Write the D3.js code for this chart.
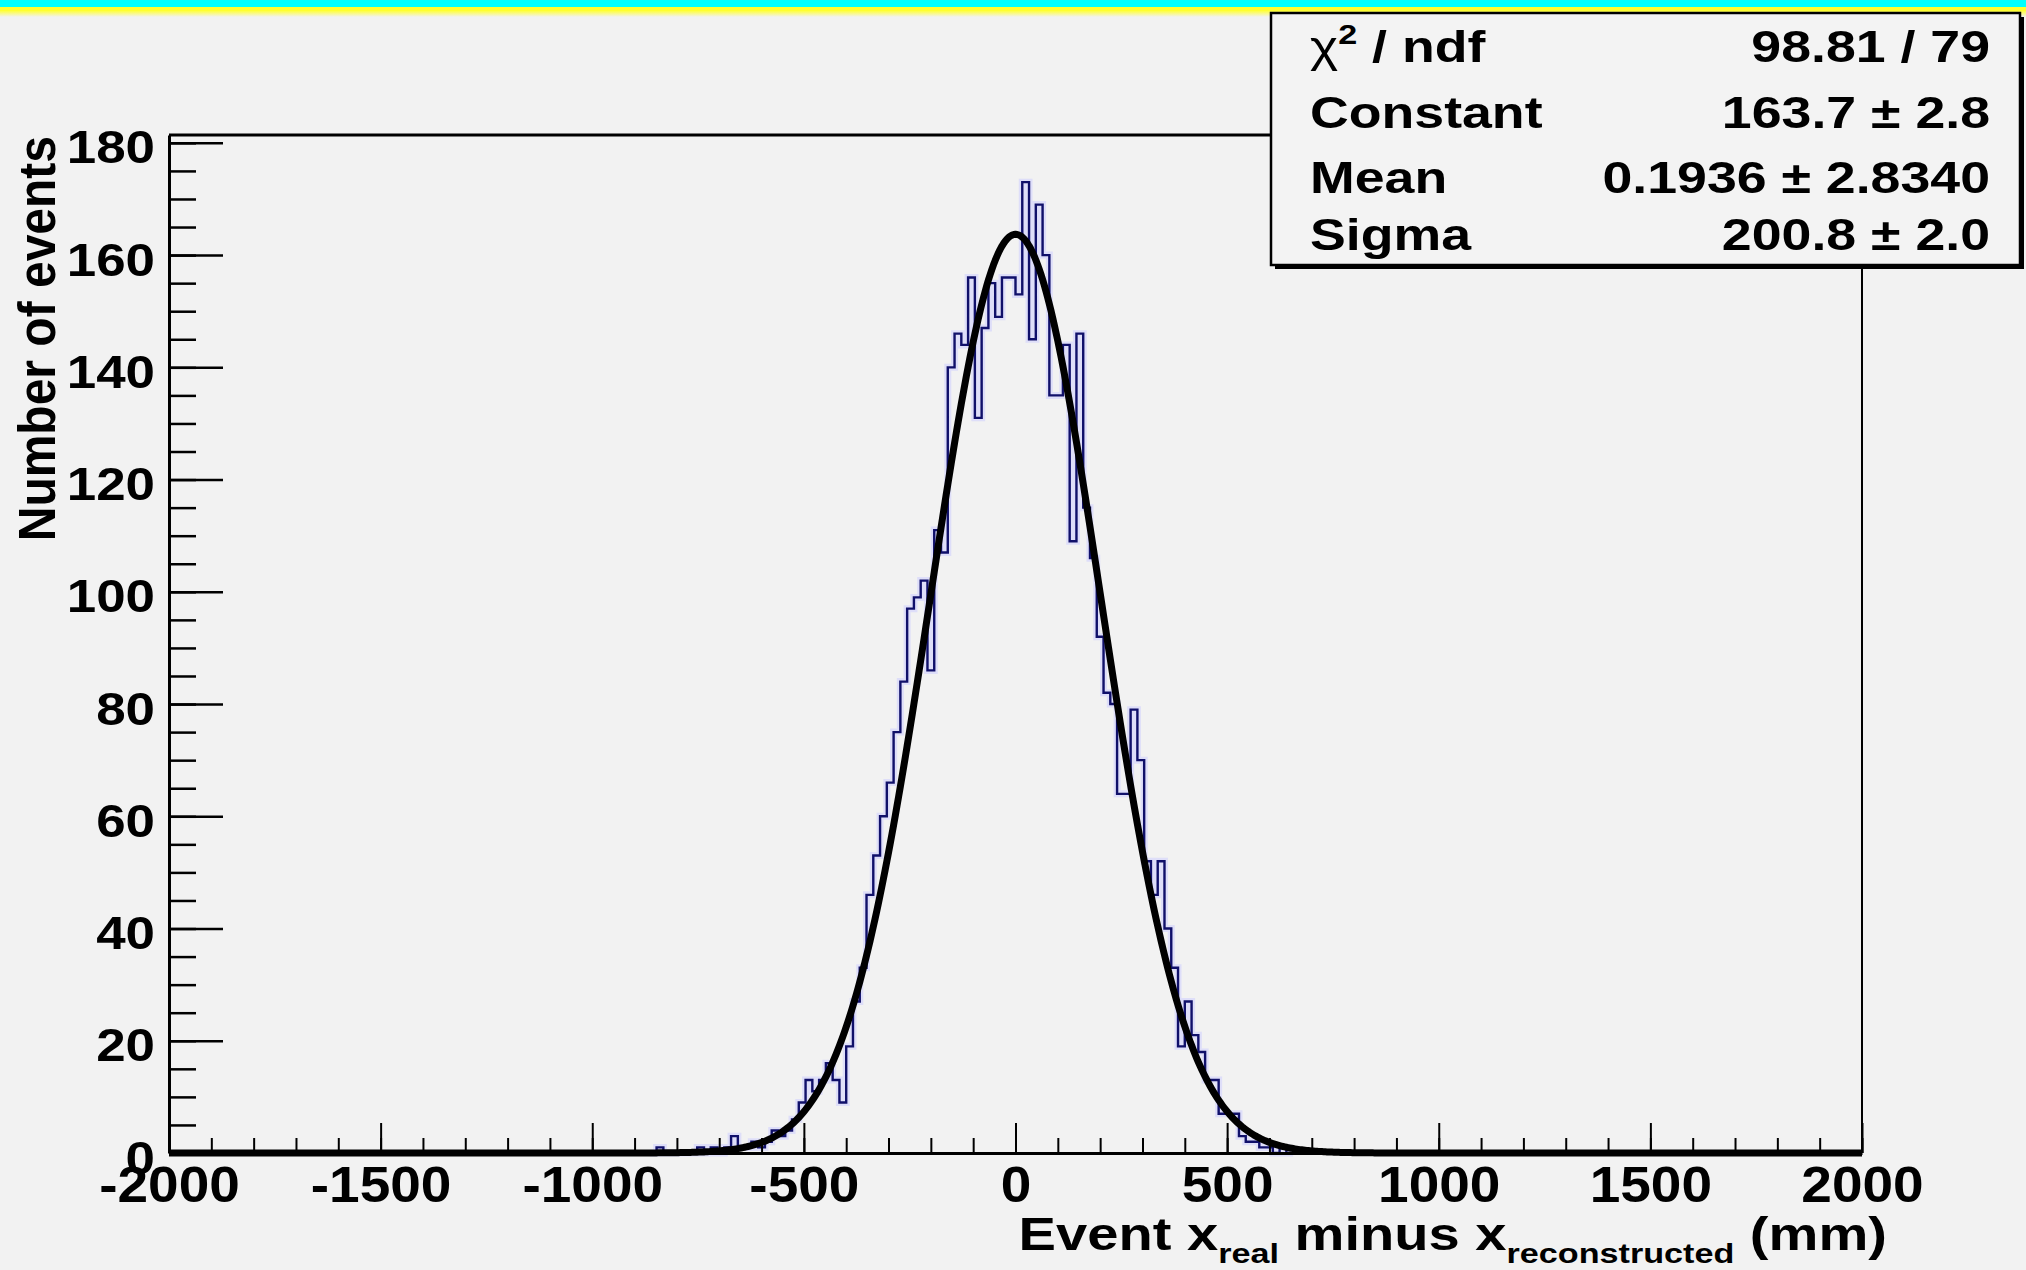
<!DOCTYPE html>
<html><head><meta charset="utf-8">
<script src="https://cdn.jsdelivr.net/npm/d3@7"></script>
<style>
html,body{margin:0;padding:0;background:#f2f2f2;}
svg{display:block;}
text{font-family:"Liberation Sans",Arial,Helvetica,sans-serif;font-weight:bold;fill:#000;}
</style>
</head><body>
<svg id="chart" width="2026" height="1270"></svg>
<script>
// ---------------- data ----------------
const binWidth = 16;          // mm per bin (250 bins over [-2000,2000])
const firstBinLow = -864;     // lower edge of first listed bin
const counts = [
  0,1,0,0,0,0,0,1,0,1,
  0,1,3,1,1,2,1,2,4,3,
  4,6,9,13,11,13,16,13,9,19,
  27,33,46,53,60,66,75,84,97,99,
  102,86,111,107,140,146,144,156,131,147,
  155,149,156,156,153,173,145,169,160,135,
  135,144,109,146,115,106,92,82,80,64,
  64,79,70,52,46,52,40,33,19,27,
  21,18,13,13,7,7,7,3,2,2,
  1,1,0,1,0
];
const fitConstant = 163.7;
const fitMean = 0.1936;
const fitSigma = 200.8;
const xDomain = [-2000, 2000];
const yDomain = [0, 181.4];
const xTickValues = [-2000,-1500,-1000,-500,0,500,1000,1500,2000];
const xMinorStep = 100;
const yTickValues = [0,20,40,60,80,100,120,140,160,180];
const yMinorStep = 5;
const statsLabels = ["Constant","Mean","Sigma"];
const statsValues = ["98.81 / 79","163.7 \u00b1 2.8","0.1936 \u00b1 2.8340","200.8 \u00b1 2.0"];
const yTitle = "Number of events";

// ---------------- layout ----------------
const W = 2026, H = 1270;
const frame = {left:169, right:1862, top:135, bottom:1153};
const svg = d3.select("#chart");

svg.append("rect").attr("x",0).attr("y",0).attr("width",W).attr("height",H).attr("fill","#f2f2f2");
// top colour band
const defs = svg.append("defs");
const g1 = defs.append("linearGradient").attr("id","fadeY").attr("x1",0).attr("y1",0).attr("x2",0).attr("y2",1);
g1.append("stop").attr("offset","0%").attr("stop-color","#ffff40");
g1.append("stop").attr("offset","100%").attr("stop-color","#f2f2f2");
svg.append("rect").attr("x",0).attr("y",0).attr("width",W).attr("height",7).attr("fill","#00ffff");
svg.append("rect").attr("x",0).attr("y",7).attr("width",W).attr("height",4).attr("fill","#ffff30");
svg.append("rect").attr("x",0).attr("y",11).attr("width",W).attr("height",6).attr("fill","url(#fadeY)");

const x = d3.scaleLinear().domain(xDomain).range([frame.left, frame.right]);
const y = d3.scaleLinear().domain(yDomain).range([frame.bottom, frame.top]);

// ---------------- histogram ----------------
const pts = [[firstBinLow, 0]];
counts.forEach((c, i) => {
  const lo = firstBinLow + i*binWidth, hi = lo + binWidth;
  pts.push([lo, c]); pts.push([hi, c]);
});
pts.push([firstBinLow + counts.length*binWidth, 0]);
const histLine = d3.line().x(d => x(d[0])).y(d => y(d[1]));
svg.append("path").attr("d", histLine(pts)).attr("fill","none")
  .attr("stroke","rgba(205,205,255,0.55)").attr("stroke-width",7);
svg.append("path").attr("d", histLine(pts)).attr("fill","none")
  .attr("stroke","#10106a").attr("stroke-width",2.4);

// ---------------- fit curve ----------------
const fx = d3.range(xDomain[0], xDomain[1] + 0.001, 4);
const fitPts = fx.map(v => [v, fitConstant*Math.exp(-0.5*Math.pow((v-fitMean)/fitSigma,2))]);
svg.append("path").attr("d", histLine(fitPts)).attr("fill","none")
  .attr("stroke","#000").attr("stroke-width",7).attr("stroke-linejoin","round");

// ---------------- axes ----------------
const xMinor = d3.axisBottom(x).tickValues(d3.range(xDomain[0], xDomain[1]+1, xMinorStep))
  .tickSize(-15).tickSizeOuter(0).tickFormat("");
const gxm = svg.append("g").attr("transform",`translate(0,${frame.bottom})`).call(xMinor);
gxm.select(".domain").remove();
gxm.selectAll("line").attr("stroke","#000").attr("stroke-width",2);

const xMajor = d3.axisBottom(x).tickValues(xTickValues).tickSize(-30).tickSizeOuter(0)
  .tickFormat(d => String(d));
const gx = svg.append("g").attr("transform",`translate(0,${frame.bottom})`).call(xMajor);
gx.select(".domain").attr("stroke","#000").attr("stroke-width",3);
gx.selectAll("line").attr("stroke","#000").attr("stroke-width",2);
gx.selectAll("text").attr("y",49).attr("dy",null)
  .attr("font-size",50).attr("fill","#000")
  .attr("transform","scale(1.1,1)");

const yMinor = d3.axisLeft(y).tickValues(d3.range(0, 181, yMinorStep))
  .tickSize(-27).tickSizeOuter(0).tickFormat("");
const gym = svg.append("g").attr("transform",`translate(${frame.left},0)`).call(yMinor);
gym.select(".domain").remove();
gym.selectAll("line").attr("stroke","#000").attr("stroke-width",2.5);

const yMajor = d3.axisLeft(y).tickValues(yTickValues).tickSize(-54).tickSizeOuter(0)
  .tickFormat(d => String(d));
const gy = svg.append("g").attr("transform",`translate(${frame.left},0)`).call(yMajor);
gy.select(".domain").attr("stroke","#000").attr("stroke-width",3);
gy.selectAll("line").attr("stroke","#000").attr("stroke-width",2.5);
gy.selectAll("text").attr("x",0).attr("y",20).attr("dy",null)
  .attr("text-anchor","end").attr("font-size",46).attr("fill","#000")
  .attr("transform","translate(-14,0) scale(1.15,1)");

// frame top & right
svg.append("line").attr("x1",frame.left).attr("x2",frame.right).attr("y1",frame.top).attr("y2",frame.top)
  .attr("stroke","#000").attr("stroke-width",3);
svg.append("line").attr("x1",frame.right).attr("x2",frame.right).attr("y1",frame.top).attr("y2",frame.bottom)
  .attr("stroke","#000").attr("stroke-width",2);

// ---------------- titles ----------------
svg.append("text").attr("font-size",48).attr("text-anchor","end")
  .attr("transform","translate(55,136) scale(1.08,1) rotate(-90)")
  .text(yTitle);

const xt = svg.append("text").attr("text-anchor","end")
  .attr("transform","translate(1887,1250) scale(1.22,1)");
xt.append("tspan").attr("font-size",46).text("Event x");
xt.append("tspan").attr("font-size",28).attr("dy",13).text("real");
xt.append("tspan").attr("font-size",46).attr("dy",-13).text(" minus x");
xt.append("tspan").attr("font-size",28).attr("dy",13).text("reconstructed");
xt.append("tspan").attr("font-size",46).attr("dy",-13).text(" (mm)");

// ---------------- stats box ----------------
const box = {x:1271, y:13, w:749, h:252};
svg.append("rect").attr("x",box.x+4).attr("y",box.y+4).attr("width",box.w).attr("height",box.h).attr("fill","#000");
svg.append("rect").attr("x",box.x).attr("y",box.y).attr("width",box.w).attr("height",box.h)
  .attr("fill","#f3f3f3").attr("stroke","#000").attr("stroke-width",2.5);

const rowBase = [62,128,193,250];
const statsLeft = 1310, statsRight = 1990;
// chi2 row
const c0 = svg.append("text").attr("transform",`translate(${statsLeft},${rowBase[0]}) scale(1.22,1)`);
c0.append("tspan").attr("font-size",44).attr("font-weight","normal").text("\u03c7");
c0.append("tspan").attr("font-size",28).attr("dy",-18).text("2");
c0.append("tspan").attr("font-size",44).attr("dy",18).text(" / ndf");
statsLabels.forEach((t,i) => {
  svg.append("text").attr("font-size",44)
    .attr("transform",`translate(${statsLeft},${rowBase[i+1]}) scale(1.22,1)`).text(t);
});
statsValues.forEach((t,i) => {
  svg.append("text").attr("font-size",44).attr("text-anchor","end")
    .attr("transform",`translate(${statsRight},${rowBase[i]}) scale(1.22,1)`).text(t);
});
</script>
</body></html>
